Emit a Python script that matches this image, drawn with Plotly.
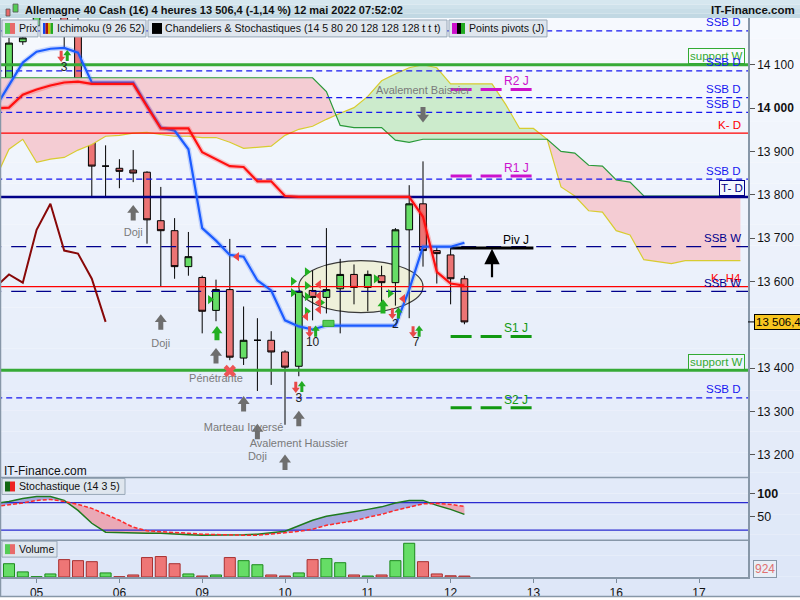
import plotly.graph_objects as go

FONT = "Liberation Sans, Arial, sans-serif"

# ---------------- data ----------------
bars = list(range(34))
opens = [14008, 14153, 14190, 14225, 14240, 14195, 13965, 13866, 13861, 13857, 13852, 13740, 13717, 13634,
         13609, 13533, 13581, 13423, 13464, 13464, 13437, 13404, 13579, 13563, 13583, 13616, 13586, 13613,
         13597, 13719, 13779, 13671, 13661, 13606]
highs = [14162, 14178, 14250, 14260, 14255, 14215, 13969, 13914, 13882, 13903, 13854, 13818, 13746, 13714,
         13613, 13604, 13698, 13542, 13515, 13485, 13441, 13579, 13625, 13723, 13652, 13639, 13625, 13636,
         13723, 13822, 13877, 13680, 13678, 13613]
lows = [13962, 14146, 14185, 14205, 14139, 13939, 13795, 13797, 13815, 13829, 13687, 13588, 13606, 13613,
        13480, 13508, 13418, 13407, 13347, 13361, 13269, 13381, 13510, 13526, 13480, 13547, 13531, 13547,
        13544, 13515, 13634, 13595, 13547, 13501]
closes = [14150, 14162, 14230, 14245, 14195, 13967, 13866, 13866, 13854, 13850, 13742, 13717, 13634, 13657,
          13531, 13581, 13425, 13464, 13464, 13437, 13402, 13577, 13563, 13581, 13616, 13586, 13616, 13597,
          13719, 13779, 13671, 13664, 13606, 13506.4]
volumes = [13000, 5000, 300, 3000, 17000, 16000, 15000, 4000, 300, 2000, 19000, 20000, 13000, 3000, 1000,
           2000, 19000, 16000, 12000, 2000, 1000, 4000, 17000, 18000, 14000, 2000, 1000, 2000, 16000, 33000,
           15000, 3000, 1200, 924]

day_tick_pos = [2, 8, 14, 20, 26, 32, 38, 44, 50]
day_tick_text = ["05", "06", "09", "10", "11", "12", "13", "16", "17"]
price_ticks = [13200, 13300, 13400, 13600, 13700, 13800, 13900, 14000, 14100]
price_tick_text = ["13 200", "13 300", "13 400", "13 600", "13 700", "13 800", "13 900", "<b>14 000</b>", "14 100"]

ichi_x = list(range(-1, 34))
tenkan = [14001, 14052, 14105, 14130, 14137, 14139, 14128, 14059, 14059, 14059, 14059, 14006, 13955, 13948,
          13905, 13723, 13694, 13661, 13657, 13602, 13579, 13510, 13496, 13489, 13498, 13498, 13498, 13498,
          13498, 13498, 13581, 13680, 13680, 13680, 13689]
kijun = [13999, 14001, 14031, 14043, 14052, 14059, 14061, 14056, 14056, 14056, 14056, 14004, 13953, 13953,
         13953, 13898, 13882, 13866, 13864, 13831, 13831, 13797, 13795, 13795, 13795, 13795, 13795, 13795,
         13795, 13795, 13795, 13749, 13622, 13595, 13590]
cloud_x = list(range(-1, 54))
senkou_a = [13836, 13905, 13928, 13875, 13882, 13886, 13903, 13916, 13935, 13937, 13942, 13944, 13939, 13935,
            13935, 13932, 13932, 13921, 13907, 13909, 13912, 13937, 13951, 13958, 13974, 13988, 14001, 14027,
            14063, 14079, 14093, 14100, 14093, 14056, 14056, 14056, 14056, 14008, 13953, 13953, 13928, 13818,
            13797, 13763, 13760, 13717, 13707, 13650, 13645, 13641, 13648, 13648, 13648, 13648, 13648]
senkou_b = [14070] * 24 + [14038, 13960, 13955, 13955, 13955, 13926, 13921] + [13928] * 10 + \
           [13900, 13896, 13868, 13866, 13834, 13829] + [13797] * 8
chikou_shift = 26

stoch_x = list(range(-1, 34))
stoch_k = [78.3, 82.6, 89.1, 93.5, 93.5, 84.8, 63.0, 34.8, 15.2, 14.1, 13.0, 13.0, 13.0, 10.9, 9.8, 8.7, 8.7,
           8.7, 9.8, 10.9, 14.1, 17.4, 29.3, 41.3, 50.0, 54.3, 59.8, 65.2, 70.7, 79.3, 84.8, 84.8, 73.9, 65.2, 54.3]
stoch_d = [71.7, 75.0, 79.3, 84.8, 87.0, 82.6, 76.1, 67.4, 54.3, 41.3, 26.1, 18.5, 16.3, 15.2, 13.0, 10.9, 9.8,
           9.8, 8.7, 8.7, 10.9, 14.1, 17.4, 21.7, 30.4, 34.8, 40.2, 47.8, 54.3, 63.0, 69.6, 77.2, 78.3, 76.1, 71.7]
stoch_levels = [80, 20]

level_names = ["SSB D", "support W", "SSB D", "SSB D", "SSB D", "K- D", "SSB D", "T- D", "SSB W", "K- H4",
               "SSB W", "support W", "SSB D"]
level_prices = [14178, 14100, 14086, 14024, 13990, 13942, 13836, 13795, 13680, 13588, 13577, 13395, 13331]

pivot_names = ["R2 J", "R1 J", "Piv J", "S1 J", "S2 J"]
pivot_prices = [14043, 13843, 13677, 13473, 13308]
pivot_from, pivot_to = 32, 38

sig_bar = [4.0, 22.0, 21.0, 28.0, 29.5]
sig_price = [14118, 13482, 13354, 13524, 13482]
sig_count = ["3", "10", "3", "2", "7"]

bull_tri_bar = [14.57, 20.58, 20.58, 21.59, 21.59, 21.59, 21.59, 22.61, 26.59, 27.61]
bull_tri_price = [13558, 13600, 13574, 13622, 13590, 13565, 13531, 13551, 13606, 13572]
bear_tri_bar = [16.52, 22.46, 22.46, 22.46, 22.46, 21.52, 28.55]
bear_tri_price = [13657, 13593, 13567, 13551, 13535, 13519, 13560]

bull_arrow_bar = [15.07, 27.1]
bull_arrow_price = [13482, 13544]

pattern_labels = ["Doji", "Doji", "Pénétrante", "Marteau Inversé", "Doji", "", "Avalement Haussier",
                  "Avalement Baissier"]
pattern_bar = [9, 11, 15, 17, 18, 20, 21, 30]
pattern_arrow_price = [13760, 13508, 13430, 13319, 13255, 13184, 13285, 13983]
pattern_label_price = [13710, 13455, 13375, 13260, 13195, 13124, 13223, 14038]
pattern_up = [True, True, True, True, True, True, True, False]

cross_bar = [16.0]
cross_price = [13393]

zone_bars = (21.0, 30.0)
zone_prices = (13528, 13648)

pivot_arrow_bar = 35
pivot_arrow_prices = (13606, 13675)

last_price = 13506.4
last_volume = 924
title_text = "Allemagne 40 Cash (1€) 4 heures 13 506,4 (-1,14 %) 12 mai 2022 07:52:02"

# ---------------- geometry / style ----------------
PR, PT, PB = 748, 18, 580
MAIN_BOT, STO_BOT = 480, 543
Y_MAIN = (13147.2, 14207.9)
Y_STO = (-2.2, 134.8)
Y_VOL = (0, 36000)
X_RANGE = (-0.652, 53.55)
PPX = (Y_MAIN[1] - Y_MAIN[0]) / (MAIN_BOT - PT)


def pxx(x):
    return x / PR


def pxy(y):
    return (PB - y) / (PB - PT)


fig = go.Figure()

# ---- Ichimoku cloud ----
def fill_runs(xs, a, b):
    X, A, B = [xs[0]], [a[0]], [b[0]]
    for j in range(1, len(xs)):
        d0 = a[j - 1] - b[j - 1]
        d1 = a[j] - b[j]
        if d0 * d1 < 0:
            t = d0 / (d0 - d1)
            xc = xs[j - 1] + t * (xs[j] - xs[j - 1])
            yc = a[j - 1] + t * (a[j] - a[j - 1])
            X.append(xc); A.append(yc); B.append(yc)
        X.append(xs[j]); A.append(a[j]); B.append(b[j])
    out = {1: ([], []), -1: ([], [])}

    def sgn(j):
        s = (A[j - 1] - B[j - 1]) + (A[j] - B[j])
        return 1 if s > 1e-9 else (-1 if s < -1e-9 else 0)

    start = 0
    cur = sgn(1)
    for j in range(2, len(X) + 1):
        s = sgn(j) if j < len(X) else None
        if s != cur:
            if cur in (1, -1):
                seg = list(range(start, j))
                xs_ = [X[k] for k in seg]
                ox, oy = out[cur]
                ox.extend(xs_ + xs_[::-1] + [None])
                oy.extend([A[k] for k in seg] + [B[k] for k in seg][::-1] + [None])
            start = j - 1
            cur = s
    return out


cl = fill_runs(cloud_x, senkou_a, senkou_b)
for key, col in ((1, "#ccebcc"), (-1, "#f4ccd3")):
    fig.add_trace(go.Scatter(x=cl[key][0], y=cl[key][1], fill="toself", fillcolor=col, mode="lines",
                             line=dict(width=0), hoverinfo="skip", xaxis="x", yaxis="y"))
fig.add_trace(go.Scatter(x=cloud_x, y=senkou_a, mode="lines", line=dict(color="#d8cc30", width=1.2),
                         xaxis="x", yaxis="y"))
fig.add_trace(go.Scatter(x=cloud_x, y=senkou_b, mode="lines", line=dict(color="#2a9a3a", width=1.2),
                         xaxis="x", yaxis="y"))

# ---- horizontal levels ----
level_style = {
    "SSB D": dict(color="#1616f0", dash="6px,4px", width=1.3),
    "support W": dict(color="#36aa36", dash="solid", width=3),
    "K- D": dict(color="#ff0000", dash="solid", width=1.3),
    "T- D": dict(color="#000088", dash="solid", width=2.5),
    "SSB W": dict(color="#00008c", dash="15px,10px", width=1.3),
    "K- H4": dict(color="#ff0000", dash="solid", width=1.3),
}
for nm, v in zip(level_names, level_prices):
    fig.add_trace(go.Scatter(x=[X_RANGE[0] - 1, X_RANGE[1] + 1], y=[v, v], mode="lines",
                             line=level_style[nm], xaxis="x", yaxis="y"))

# ---- pivot points ----
pivot_style = {"R": "#cc11cc", "P": "#000000", "S": "#119911"}
for nm, v in zip(pivot_names, pivot_prices):
    c = pivot_style[nm[0]]
    fig.add_trace(go.Scatter(x=[pivot_from, pivot_to], y=[v, v], mode="lines",
                             line=dict(color=c, width=3, dash="solid" if nm.startswith("Piv") else "21px,9px"),
                             xaxis="x", yaxis="y"))

# ---- candles ----
fig.add_trace(go.Candlestick(x=bars, open=opens, high=highs, low=lows, close=closes,
                             increasing=dict(line=dict(color="#000000", width=1), fillcolor="#66dd66"),
                             decreasing=dict(line=dict(color="#000000", width=1), fillcolor="#ec7474"),
                             whiskerwidth=0, xaxis="x", yaxis="y"))

# ---- Ichimoku lines ----
chikou_x = [i - chikou_shift for i in bars if i - chikou_shift >= -1]
chikou_y = [closes[i] for i in bars if i - chikou_shift >= -1]
fig.add_trace(go.Scatter(x=chikou_x, y=chikou_y, mode="lines", line=dict(color="#880808", width=2),
                         xaxis="x", yaxis="y"))
fig.add_trace(go.Scatter(x=ichi_x, y=tenkan, mode="lines", line=dict(color="rgba(60,110,255,0.25)", width=5),
                         xaxis="x", yaxis="y"))
fig.add_trace(go.Scatter(x=ichi_x, y=tenkan, mode="lines", line=dict(color="#1c5cff", width=2.2),
                         xaxis="x", yaxis="y"))
fig.add_trace(go.Scatter(x=ichi_x, y=kijun, mode="lines", line=dict(color="rgba(255,40,40,0.25)", width=5),
                         xaxis="x", yaxis="y"))
fig.add_trace(go.Scatter(x=ichi_x, y=kijun, mode="lines", line=dict(color="#ff1010", width=2.2),
                         xaxis="x", yaxis="y"))

# ---- markers ----
def block_arrow(xs, ys, up, color, hpx, wh, ws):
    s_head = wh / 1.155
    r = s_head / 2
    d = 1 if up else -1
    head_off = (hpx / 2 - r) * PPX * d
    ls = hpx - 1.5 * r + 1
    shaft_off = (-hpx / 2 + ls / 2) * PPX * d
    fig.add_trace(go.Scatter(x=xs, y=[y + shaft_off for y in ys], mode="markers",
                             marker=dict(symbol="line-ns", size=ls, line=dict(color=color, width=ws)),
                             xaxis="x", yaxis="y"))
    fig.add_trace(go.Scatter(x=xs, y=[y + head_off for y in ys], mode="markers",
                             marker=dict(symbol="triangle-up" if up else "triangle-down", size=s_head,
                                         color=color, line=dict(width=0)),
                             xaxis="x", yaxis="y"))


fig.add_trace(go.Scatter(x=bull_tri_bar, y=bull_tri_price, mode="markers",
                         marker=dict(symbol="triangle-right", size=8, color="#22b022"), xaxis="x", yaxis="y"))
fig.add_trace(go.Scatter(x=bear_tri_bar, y=bear_tri_price, mode="markers",
                         marker=dict(symbol="triangle-left", size=8, color="#ee4444"), xaxis="x", yaxis="y"))

ups = [(b, p) for b, p, u in zip(pattern_bar, pattern_arrow_price, pattern_up) if u]
dns = [(b, p) for b, p, u in zip(pattern_bar, pattern_arrow_price, pattern_up) if not u]
block_arrow([b for b, _ in ups], [p for _, p in ups], True, "#6e6e6e", 14, 12, 5)
block_arrow([b for b, _ in dns], [p for _, p in dns], False, "#6e6e6e", 14, 12, 5)
block_arrow(bull_arrow_bar, bull_arrow_price, True, "#22b022", 13, 11, 5)
block_arrow([b - 0.22 for b in sig_bar], sig_price, False, "#e84848", 10, 8, 3)
block_arrow([b + 0.22 for b in sig_bar], [p + 2 * PPX for p in sig_price], True, "#22aa22", 10, 8, 3)

fig.add_trace(go.Scatter(x=cross_bar, y=cross_price, mode="markers",
                         marker=dict(symbol="x", size=11, color="#ee5555", line=dict(width=0)),
                         xaxis="x", yaxis="y"))

fig.add_trace(go.Scatter(x=sig_bar, y=[p - 11 * PPX for p in sig_price], mode="text", text=sig_count,
                         textfont=dict(family=FONT, size=12, color="#222222"), xaxis="x", yaxis="y"))
fig.add_trace(go.Scatter(x=pattern_bar, y=pattern_label_price, mode="text", text=pattern_labels,
                         textfont=dict(family=FONT, size=11, color="#7a7a7a"), cliponaxis=True,
                         xaxis="x", yaxis="y"))

# ---- stochastic ----
sf = fill_runs(stoch_x, stoch_k, stoch_d)
for key, col in ((1, "#a4a8e0"), (-1, "#eaa9b6")):
    fig.add_trace(go.Scatter(x=sf[key][0], y=sf[key][1], fill="toself", fillcolor=col, mode="lines",
                             line=dict(width=0), xaxis="x2", yaxis="y2"))
for lv in stoch_levels:
    fig.add_trace(go.Scatter(x=[X_RANGE[0] - 1, X_RANGE[1] + 1], y=[lv, lv], mode="lines",
                             line=dict(color="#2a2ad0", width=1.2), xaxis="x2", yaxis="y2"))
fig.add_trace(go.Scatter(x=stoch_x, y=stoch_k, mode="lines", line=dict(color="#1e7a1e", width=1.5),
                         xaxis="x2", yaxis="y2"))
fig.add_trace(go.Scatter(x=stoch_x, y=stoch_d, mode="lines", line=dict(color="#ff2a2a", width=1.5, dash="4px,2px"),
                         xaxis="x2", yaxis="y2"))

# ---- volume ----
vol_up = [c >= o for o, c in zip(opens, closes)]
fig.add_trace(go.Bar(x=bars, y=volumes, width=0.8,
                     marker=dict(color=["#66dd66" if u else "#ee7676" for u in vol_up],
                                 line=dict(color=["#1c8a1c" if u else "#a83030" for u in vol_up], width=1)),
                     xaxis="x3", yaxis="y3"))

# ---------------- shapes ----------------
shapes = []
N = 28
for k in range(N):
    y0 = PT + (PB + 20 - PT) * k / N
    y1 = PT + (PB + 20 - PT) * (k + 1) / N
    t = k / (N - 1)
    r = int(246 - 24 * t); g = int(249 - 18 * t); b = int(254 - 6 * t)
    shapes.append(dict(type="rect", xref="paper", yref="paper", x0=0, x1=pxx(800), y0=pxy(y1), y1=pxy(y0),
                       fillcolor=f"rgb({r},{g},{b})", line=dict(width=0), layer="below"))
for k, col in enumerate(["#d6e7ef", "#cfe2eb", "#c8dde7", "#c1d8e3"]):
    shapes.append(dict(type="rect", xref="paper", yref="paper", x0=0, x1=pxx(800),
                       y0=pxy(4.5 * k + 4.5), y1=pxy(4.5 * k), fillcolor=col, line=dict(width=0),
                       layer="below"))
shapes.append(dict(type="circle", xref="x", yref="y", x0=zone_bars[0], x1=zone_bars[1], y0=zone_prices[0],
                   y1=zone_prices[1], fillcolor="rgba(238,240,214,0.9)", line=dict(color="#3a3a3a", width=1.2),
                   layer="below"))
shapes.append(dict(type="rect", xref="x", yref="y", x0=22.75, x1=23.55, y0=13496, y1=13510,
                   fillcolor="#55cc55", line=dict(color="#33aa33", width=1)))
for yy in (MAIN_BOT, STO_BOT):
    shapes.append(dict(type="line", xref="paper", yref="paper", x0=0, x1=pxx(PR), y0=pxy(yy), y1=pxy(yy),
                       line=dict(color="#8797a8", width=1.5)))
shapes.append(dict(type="line", xref="paper", yref="paper", x0=pxx(0.5), x1=pxx(0.5), y0=pxy(600), y1=pxy(18),
                   line=dict(color="#8797a8", width=1.5)))
shapes.append(dict(type="line", xref="paper", yref="paper", x0=0, x1=pxx(800), y0=pxy(599.5), y1=pxy(599.5),
                   line=dict(color="#8797a8", width=1.5)))
legend_boxes = [(2, 38, 20, 37), (40, 146, 20, 37), (148, 447, 20, 37), (449, 547, 20, 37),
                (2, 125, 481, 497), (2, 57, 544, 560)]
for x0, x1, y0, y1 in legend_boxes:
    shapes.append(dict(type="rect", xref="paper", yref="paper", x0=pxx(x0), x1=pxx(x1), y0=pxy(y1), y1=pxy(y0),
                       fillcolor="#dfe6ee", line=dict(color="#98a8b8", width=1)))
icons = [(5, 10, 23, 34, "#55cc55"), (10, 15, 23, 34, "#e86a6a"),
         (43, 45.5, 23, 34, "#1144ee"), (45.5, 48, 23, 34, "#aa1111"), (48, 50.5, 23, 34, "#d6b800"),
         (50.5, 53, 23, 34, "#22aa22"),
         (152, 162, 23, 34, "#000000"),
         (452, 457, 23, 34, "#cc11cc"), (457, 461, 23, 34, "#000000"), (461, 465, 23, 34, "#22aa22"),
         (5, 10, 484, 494, "#116611"), (10, 15, 484, 494, "#ee2222"),
         (5, 10, 547, 557, "#55cc55"), (10, 15, 547, 557, "#e86a6a")]
for x0, x1, y0, y1, c in icons:
    shapes.append(dict(type="rect", xref="paper", yref="paper", x0=pxx(x0), x1=pxx(x1), y0=pxy(y1), y1=pxy(y0),
                       fillcolor=c, line=dict(width=0)))
for x0, x1, y0, y1, c in [(6, 10, 9, 16, "#e86a6a"), (13, 18, 4, 12, "#55cc55")]:
    shapes.append(dict(type="rect", xref="paper", yref="paper", x0=pxx(x0), x1=pxx(x1), y0=pxy(y1), y1=pxy(y0),
                       fillcolor=c, line=dict(color="#555555", width=0.8)))
shapes.append(dict(type="line", xref="paper", yref="y", x0=pxx(748), x1=pxx(754), y0=last_price, y1=last_price,
                   line=dict(color="#000000", width=1)))

# ---------------- annotations ----------------
ann = []
ann.append(dict(x=pxx(23), y=pxy(10), xref="paper", yref="paper", xanchor="left", yanchor="middle",
                text="<b>" + title_text + "</b>", showarrow=False, font=dict(family=FONT, size=11, color="#111")))
ann.append(dict(x=pxx(797), y=pxy(10), xref="paper", yref="paper", xanchor="right", yanchor="middle",
                text="<b>IT-Finance.com</b>", showarrow=False, font=dict(family=FONT, size=11.5, color="#111")))
for x, y, t in [(17, 28.5, "Prix"), (55, 28.5, "Ichimoku (9 26 52)"),
                (163, 28.5, "Chandeliers & Stochastiques (14 5 80 20 128 128 128 t t t)"),
                (467, 28.5, "Points pivots (J)"), (17, 489, "Stochastique (14 3 5)"), (17, 552, "Volume")]:
    ann.append(dict(x=pxx(x), y=pxy(y), xref="paper", yref="paper", xanchor="left", yanchor="middle", text=t,
                    showarrow=False, font=dict(family=FONT, size=10.6, color="#111")))
ann.append(dict(x=pxx(2), y=pxy(473), xref="paper", yref="paper", xanchor="left", yanchor="middle",
                text="IT-Finance.com", showarrow=False, font=dict(family=FONT, size=12, color="#111")))

label_style = {
    "SSB D": dict(color="#1616f0", box=None),
    "support W": dict(color="#33aa33", box="#33aa33"),
    "K- D": dict(color="#ff0000", box=None),
    "T- D": dict(color="#000088", box="#000088"),
    "SSB W": dict(color="#00008c", box=None),
    "K- H4": dict(color="#ff0000", box=None),
}
for nm, v in zip(level_names, level_prices):
    st = label_style[nm]
    a = dict(x=pxx(743), y=v, xref="paper", yref="y", xanchor="right", yanchor="middle", yshift=8.5,
             text=nm, showarrow=False, font=dict(family=FONT, size=11.5, color=st["color"]))
    if st["box"]:
        a.update(bordercolor=st["box"], borderwidth=1, borderpad=1, bgcolor="rgba(255,255,255,0.35)")
        a["x"] = pxx(745)
    ann.append(a)

for nm, v in zip(pivot_names, pivot_prices):
    ann.append(dict(x=36.75, y=v, xref="x", yref="y", xanchor="center", yanchor="middle", yshift=8,
                    text=nm, showarrow=False,
                    font=dict(family=FONT, size=12, color=pivot_style[nm[0]])))

ann.append(dict(x=pivot_arrow_bar, y=pivot_arrow_prices[1], ax=pivot_arrow_bar, ay=pivot_arrow_prices[0],
                xref="x", yref="y", axref="x", ayref="y", text="", showarrow=True, arrowhead=2, arrowsize=1.4,
                arrowwidth=2.2, arrowcolor="#000000"))

ann.append(dict(x=pxx(753.5), y=last_price, xref="paper", yref="y", xanchor="left", yanchor="middle",
                text="13 506,4", showarrow=False, bgcolor="#f7c520", bordercolor="#000000", borderwidth=1,
                borderpad=1, font=dict(family=FONT, size=11.5, color="#000")))
ann.append(dict(x=pxx(753), y=pxy(572), xref="paper", yref="paper", xanchor="left", yanchor="middle",
                text=str(last_volume), showarrow=False, bgcolor="#e9eff7", bordercolor="#8797a8", borderwidth=1,
                borderpad=1, font=dict(family=FONT, size=12, color="#e07070")))

axis_common = dict(showgrid=False, zeroline=False)
fig.update_layout(
    width=800, height=600, margin=dict(l=0, r=800 - PR, t=PT, b=600 - PB),
    paper_bgcolor="#ffffff", plot_bgcolor="rgba(0,0,0,0)", showlegend=False,
    font=dict(family=FONT, size=12, color="#111"),
    xaxis=dict(domain=[0, 1], anchor="y", range=list(X_RANGE), showticklabels=False,
               rangeslider=dict(visible=False), **axis_common),
    xaxis2=dict(domain=[0, 1], anchor="y2", matches="x", showticklabels=False, **axis_common),
    xaxis3=dict(domain=[0, 1], anchor="y3", matches="x", tickmode="array", tickvals=day_tick_pos,
                ticktext=day_tick_text, ticks="outside", ticklen=4, tickcolor="#7a8a9a", showline=True,
                linecolor="#8797a8", linewidth=1.5, tickfont=dict(family=FONT, size=12, color="#111"),
                **axis_common),
    yaxis=dict(domain=[pxy(MAIN_BOT), 1], side="right", range=list(Y_MAIN), tickmode="array",
               tickvals=price_ticks, ticktext=price_tick_text, ticks="outside", ticklen=5, tickcolor="#555",
               showline=True, linecolor="#8797a8", linewidth=1.5,
               tickfont=dict(family=FONT, size=12, color="#111"), **axis_common),
    yaxis2=dict(domain=[pxy(STO_BOT), pxy(MAIN_BOT)], side="right", range=list(Y_STO), tickmode="array",
                tickvals=[50, 100], ticktext=["50", "<b>100</b>"], ticks="outside", ticklen=5, tickcolor="#555",
                showline=True, linecolor="#8797a8", linewidth=1.5,
                tickfont=dict(family=FONT, size=12.5, color="#111"), **axis_common),
    yaxis3=dict(domain=[0, pxy(STO_BOT)], side="right", range=list(Y_VOL), showticklabels=False,
                showline=True, linecolor="#8797a8", linewidth=1.5, **axis_common),
    shapes=shapes, annotations=ann, bargap=0.2,
)
fig.update_traces(hoverinfo="skip", selector=dict(type="scatter"))

fig.write_html("out.html", config={"displayModeBar": False},
               post_script="document.body.style.margin='0px';document.body.style.overflow='hidden';")
